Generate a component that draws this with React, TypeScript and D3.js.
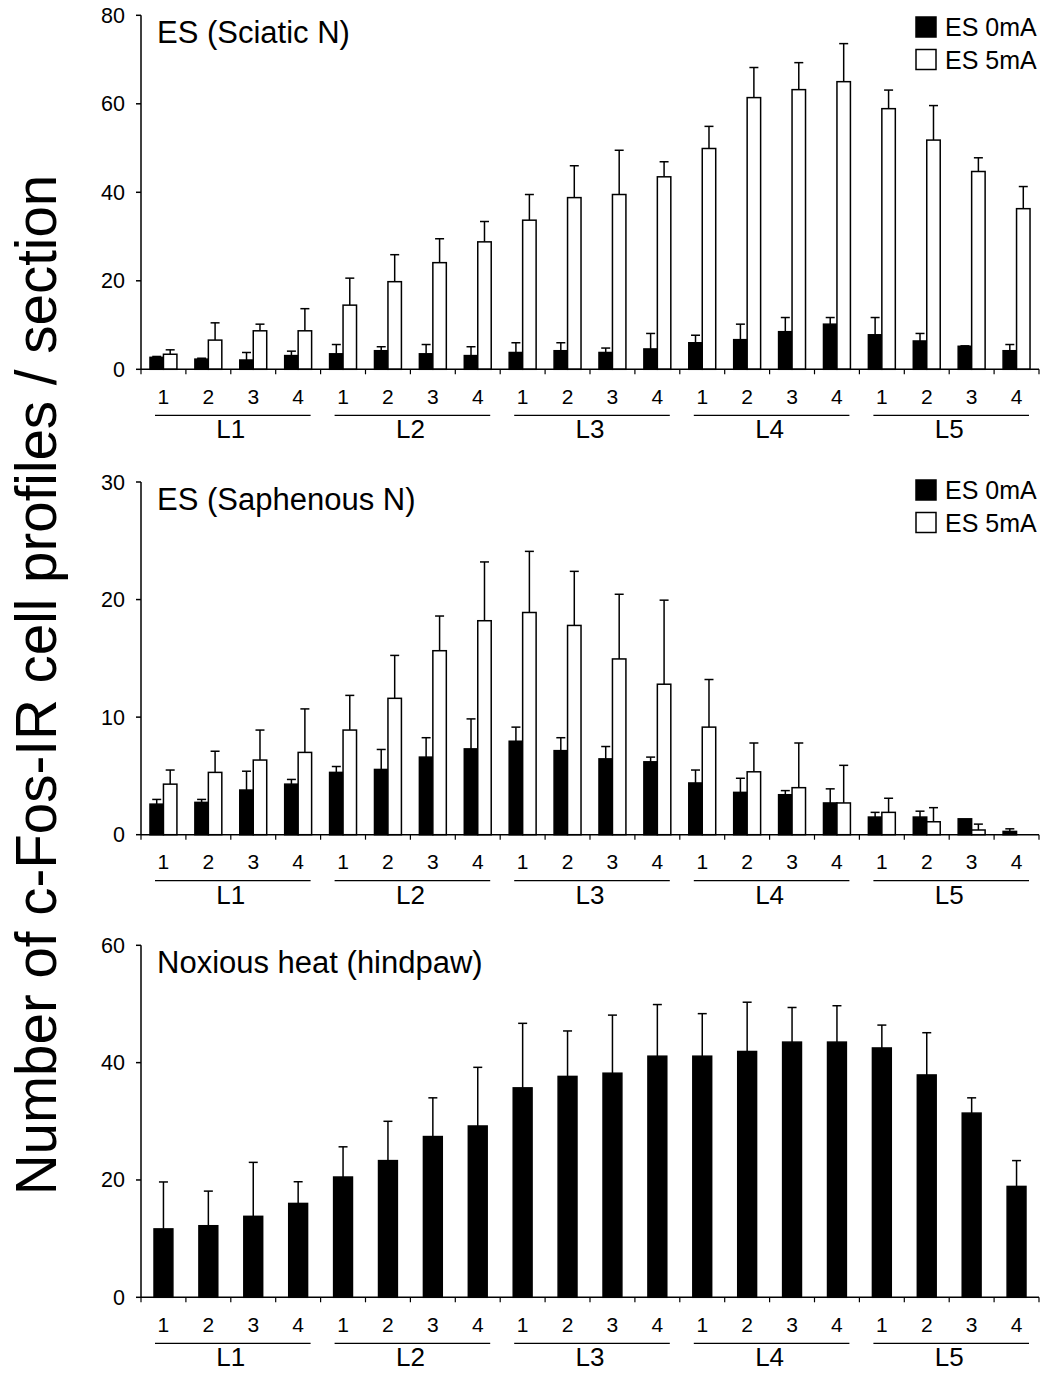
import React, { useEffect } from 'react';
import * as d3 from 'd3';

const levels = ['L1', 'L2', 'L3', 'L4', 'L5'];
const segments = ['1', '2', '3', '4'];
const categories = levels.flatMap((l) => segments.map((s) => `${l}-${s}`));

// ES (Sciatic N)
const sciatic0 = [2.7, 2.3, 2.1, 3.1, 3.5, 4.2, 3.5, 3.1, 3.8, 4.2, 3.8, 4.6, 6.0, 6.7, 8.5, 10.2, 7.8, 6.4, 5.2, 4.2];
const sciatic0Sem = [0.2, 0.2, 1.7, 1.0, 2.1, 0.9, 2.1, 2.0, 2.2, 1.8, 1.0, 3.5, 1.7, 3.5, 3.2, 1.5, 3.9, 1.7, 0.1, 1.4];
const sciatic5 = [3.4, 6.6, 8.7, 8.7, 14.5, 19.8, 24.1, 28.8, 33.7, 38.8, 39.5, 43.5, 49.9, 61.4, 63.2, 65.0, 58.9, 51.8, 44.7, 36.3];
const sciatic5Sem = [1.0, 3.9, 1.5, 5.0, 6.1, 6.1, 5.4, 4.6, 5.8, 7.2, 10.0, 3.4, 5.0, 6.8, 6.1, 8.6, 4.2, 7.8, 3.1, 5.0];

// ES (Saphenous N)
const saph0 = [2.6, 2.75, 3.8, 4.3, 5.3, 5.55, 6.6, 7.3, 7.95, 7.15, 6.45, 6.2, 4.4, 3.6, 3.4, 2.7, 1.5, 1.5, 1.35, 0.28];
const saph0Sem = [0.4, 0.25, 1.6, 0.4, 0.5, 1.7, 1.65, 2.55, 1.2, 1.1, 1.05, 0.4, 1.1, 1.2, 0.35, 1.2, 0.4, 0.5, 0, 0.22];
const saph5 = [4.3, 5.3, 6.35, 7.0, 8.9, 11.6, 15.65, 18.2, 18.9, 17.8, 14.95, 12.8, 9.15, 5.35, 4.0, 2.7, 1.9, 1.1, 0.4, 0];
const saph5Sem = [1.2, 1.8, 2.55, 3.7, 2.95, 3.65, 2.95, 5.0, 5.2, 4.6, 5.5, 7.15, 4.05, 2.45, 3.8, 3.2, 1.2, 1.2, 0.5, 0];

// Noxious heat (hindpaw)
const heat = [11.66, 12.2, 13.8, 16.0, 20.5, 23.3, 27.4, 29.2, 35.7, 37.65, 38.2, 41.1, 41.1, 41.9, 43.5, 43.5, 42.5, 37.9, 31.4, 18.9];
const heatSem = [8.0, 5.9, 9.2, 3.7, 5.15, 6.7, 6.6, 10.0, 11.0, 7.75, 9.9, 8.8, 7.25, 8.4, 5.9, 6.2, 3.9, 7.2, 2.6, 4.4];

const legendLabels = ['ES 0mA', 'ES 5mA'];
const yLabel = 'Number of c-Fos-IR cell profiles / section';

const FONT = '"Liberation Sans", Arial, Helvetica, sans-serif';

const x = d3.scaleBand().domain(categories).range([141, 1039]).paddingInner(0).paddingOuter(0);
const bw = x.bandwidth();

const Panel = ({ top, bottom, max, ticks, title, series, legendY }) => {
  const y = d3.scaleLinear().domain([0, max]).range([bottom, top]);
  const paired = series.length === 2;
  const barW = paired ? bw * 0.3 : bw * 0.42;
  const fills = ['#000', '#fff'];

  return (
    <g>
      <text x={157} y={top + 28} fontSize={31} fontFamily={FONT}>{title}</text>

      {series.map((s, si) =>
        categories.map((c, i) => {
          const cx = x(c) + bw / 2;
          const x0 = paired ? (si === 0 ? cx - barW : cx) : cx - barW / 2;
          const v = s.values[i];
          const e = s.sem[i];
          const mid = x0 + barW / 2;
          return (
            <g key={`${si}-${c}`}>
              {e > 0 && (
                <g stroke="#000" strokeWidth={1.5}>
                  <line x1={mid} x2={mid} y1={y(v)} y2={y(v + e)} />
                  <line x1={mid - 4.5} x2={mid + 4.5} y1={y(v + e)} y2={y(v + e)} />
                </g>
              )}
              {v > 0 && (
                <rect x={x0} y={y(v)} width={barW} height={bottom - y(v)}
                  fill={fills[si]} stroke="#000" strokeWidth={1.5} />
              )}
            </g>
          );
        })
      )}

      {/* y axis */}
      <line x1={141} x2={141} y1={top} y2={bottom} stroke="#000" strokeWidth={1.5} />
      {ticks.map((t) => (
        <g key={t}>
          <line x1={136} x2={141} y1={y(t)} y2={y(t)} stroke="#000" strokeWidth={1.5} />
          <text x={125} y={y(t)} dy="0.35em" textAnchor="end" fontSize={21.5} fontFamily={FONT}>{t}</text>
        </g>
      ))}

      {/* x axis */}
      <line x1={141} x2={1039} y1={bottom} y2={bottom} stroke="#000" strokeWidth={1.5} />
      {[...categories.map((c) => x(c)), 1039].map((px, i) => (
        <line key={i} x1={px} x2={px} y1={bottom} y2={bottom + 5} stroke="#000" strokeWidth={1.2} />
      ))}
      {categories.map((c, i) => (
        <text key={c} x={x(c) + bw / 2} y={bottom + 27} dy="0.35em" textAnchor="middle"
          fontSize={21} fontFamily={FONT}>{segments[i % 4]}</text>
      ))}
      {levels.map((l) => {
        const gx0 = x(`${l}-1`);
        const gx1 = x(`${l}-4`) + bw;
        const gc = (gx0 + gx1) / 2;
        return (
          <g key={l}>
            <line x1={gx0 + 14} x2={gx1 - 10} y1={bottom + 46} y2={bottom + 46} stroke="#000" strokeWidth={1.3} />
            <text transform={`translate(${gc},${bottom + 69})`} textAnchor="middle"
              fontSize={26} fontFamily={FONT}>
              <tspan style={{ fontStretch: 'condensed' }}>{l}</tspan>
            </text>
          </g>
        );
      })}

      {paired && legendLabels.map((lab, i) => (
        <g key={lab}>
          <rect x={916} y={legendY + i * 32.5} width={20} height={20} fill={fills[i]} stroke="#000" strokeWidth={1.5} />
          <text x={945} y={legendY + i * 32.5 + 19} fontSize={25} fontFamily={FONT}>{lab}</text>
        </g>
      ))}
    </g>
  );
};

export default function App() {
  useEffect(() => {
    document.body.style.margin = '0';
  }, []);

  return (
    <svg width={1051} height={1373} style={{ display: 'block', background: '#fff' }}>
      <rect width={1051} height={1373} fill="#fff" />
      <Panel top={15.3} bottom={369.3} max={80} ticks={[0, 20, 40, 60, 80]} title="ES (Sciatic N)"
        legendY={17}
        series={[{ values: sciatic0, sem: sciatic0Sem }, { values: sciatic5, sem: sciatic5Sem }]} />
      <Panel top={482} bottom={834.7} max={30} ticks={[0, 10, 20, 30]} title="ES (Saphenous N)"
        legendY={480}
        series={[{ values: saph0, sem: saph0Sem }, { values: saph5, sem: saph5Sem }]} />
      <Panel top={945.3} bottom={1297.3} max={60} ticks={[0, 20, 40, 60]} title="Noxious heat (hindpaw)"
        legendY={0}
        series={[{ values: heat, sem: heatSem }]} />
      <text transform="translate(56,685) rotate(-90)" textAnchor="middle" fontSize={56.5} fontFamily={FONT}>{yLabel}</text>
    </svg>
  );
}
